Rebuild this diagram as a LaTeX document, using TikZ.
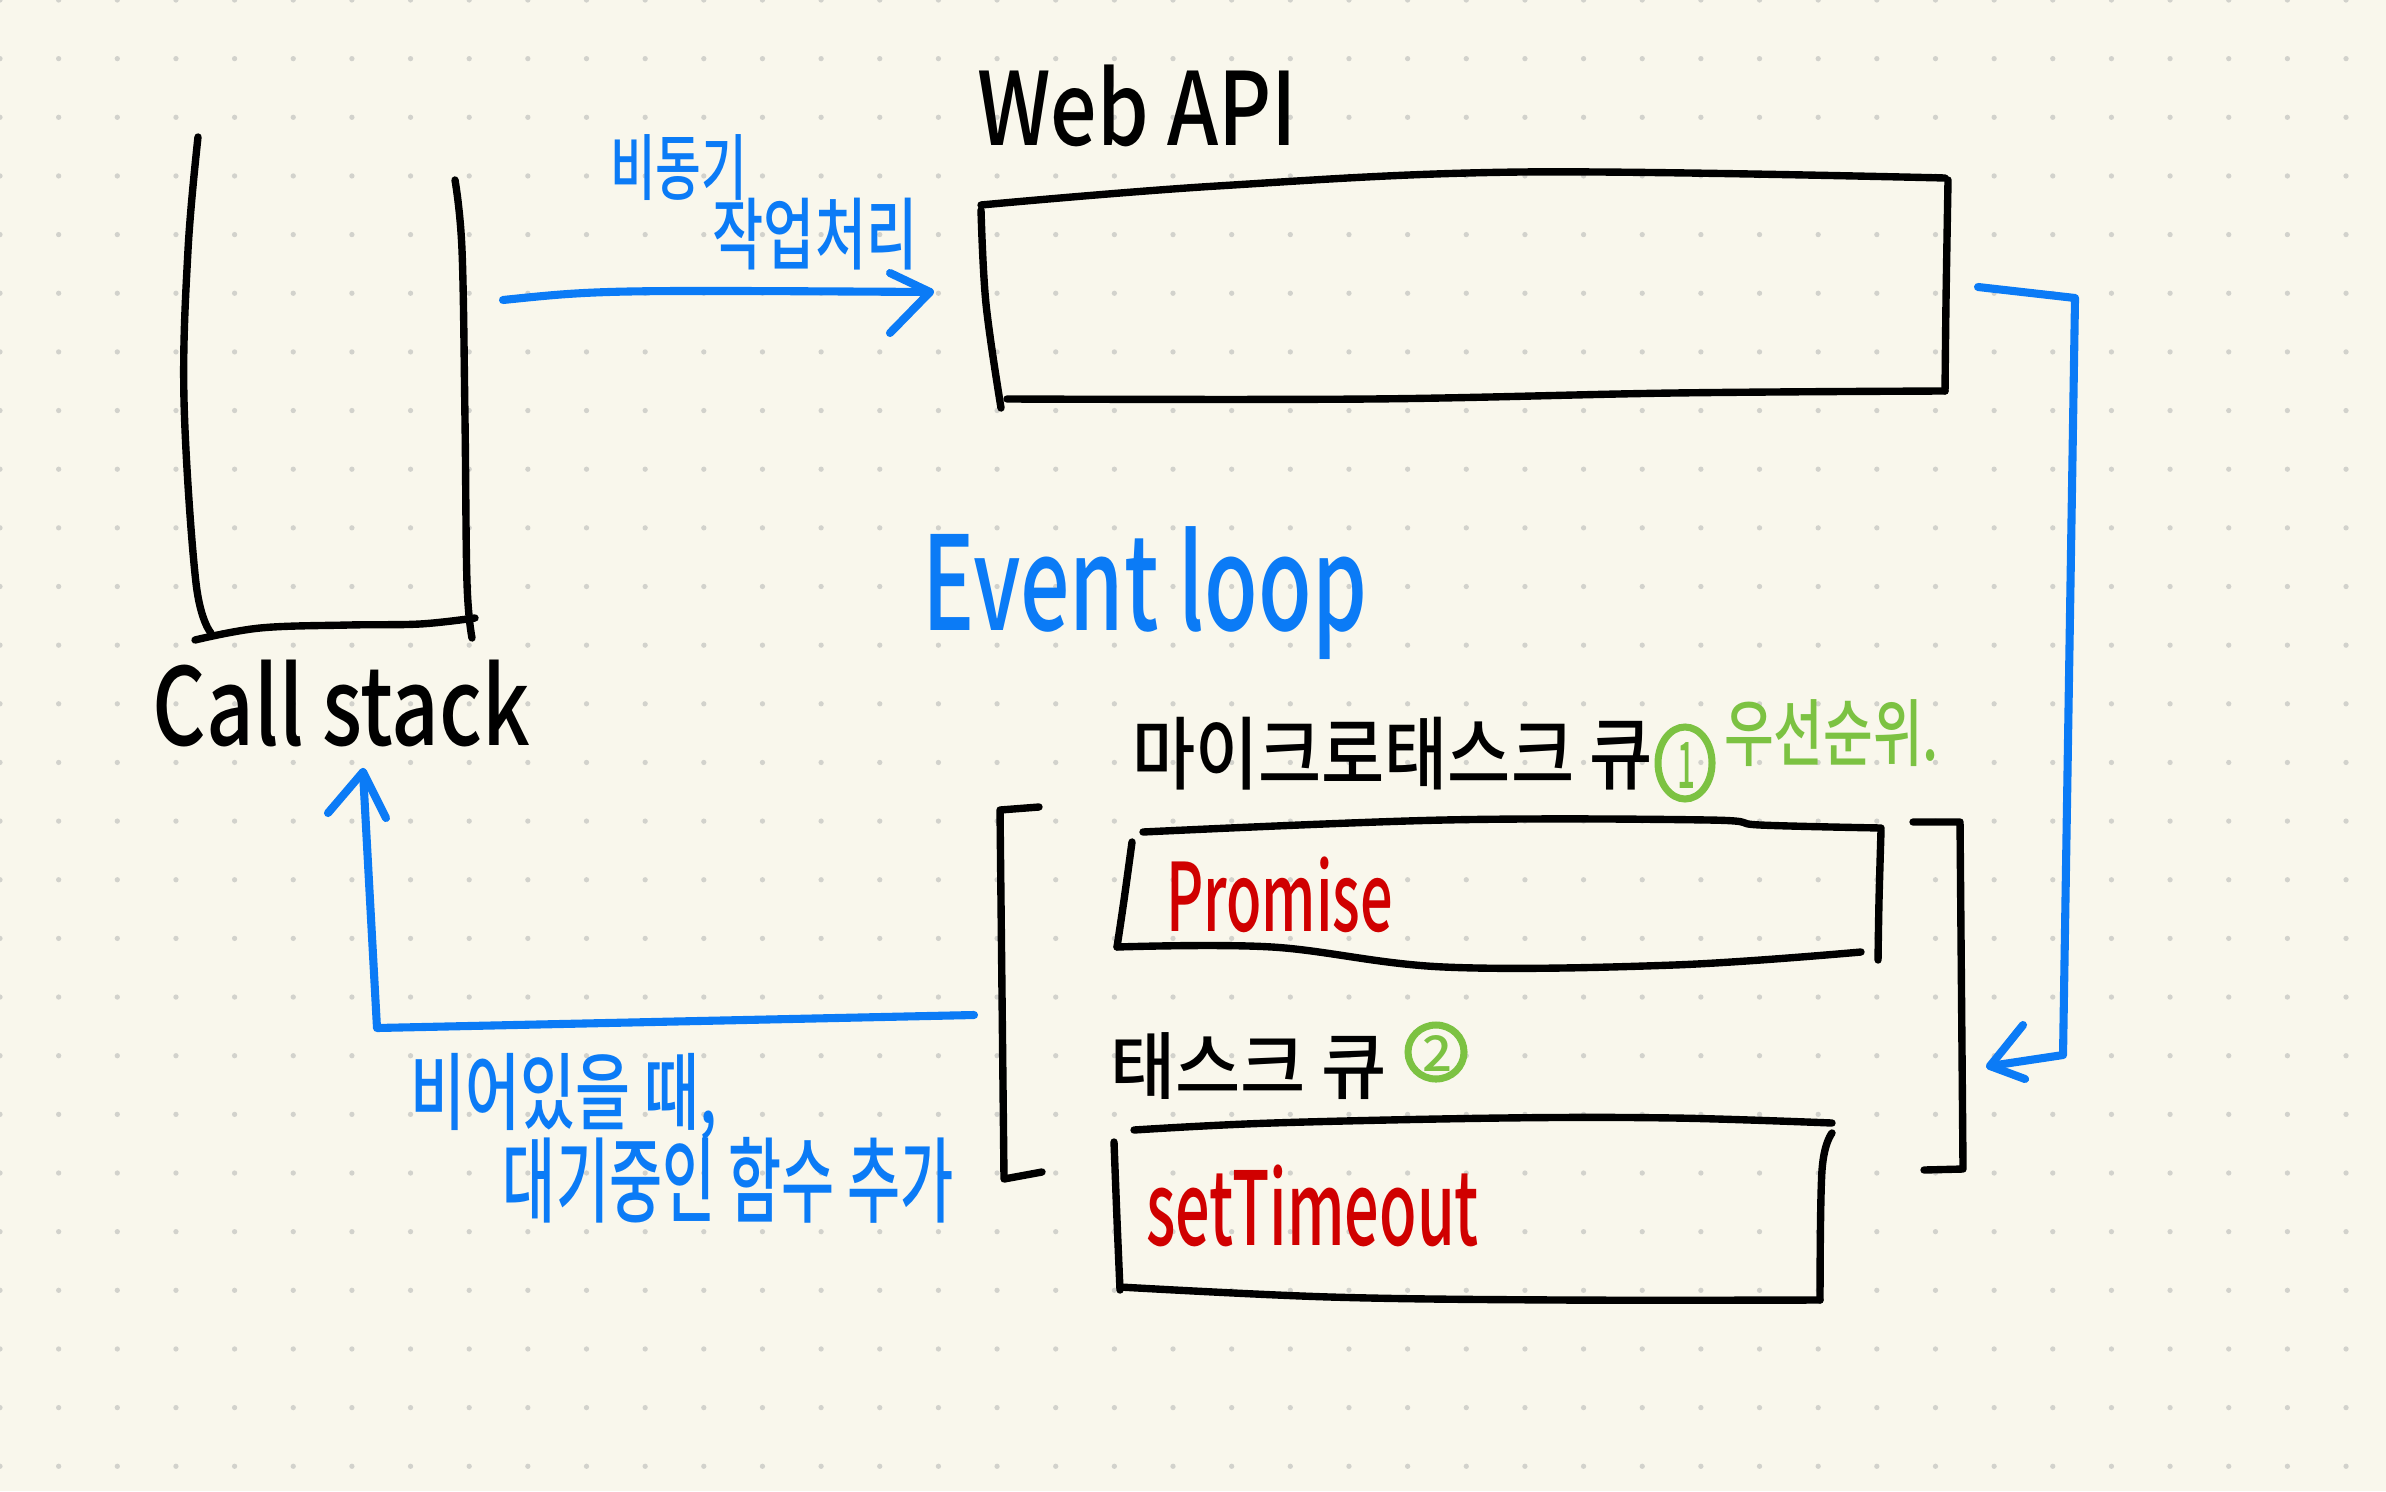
\documentclass[tikz,border=0pt]{standalone}
\usepackage{fontspec}
\usepackage{graphicx}
\usetikzlibrary{calc}
\newfontfamily\hand{Noto Sans CJK KR Medium}
\newlength\pxu
\setlength\pxu{0.01cm}
\newcommand\fitt[3]{\resizebox*{#1\pxu}{#2\pxu}{#3}}
\definecolor{bgc}{HTML}{F9F7EC}
\definecolor{dotc}{HTML}{D2D2CC}
\definecolor{bluec}{HTML}{0B7BF6}
\definecolor{redc}{HTML}{D00000}
\definecolor{greenc}{HTML}{7CC242}
\begin{document}
\begin{tikzpicture}[x=0.01cm,y=-0.01cm,
  ink/.style={line width=2.1pt, line cap=round, line join=round, draw=black},
  flow/.style={line width=2.3pt, line cap=round, line join=round, draw=bluec},
  gline/.style={line width=2pt, line cap=round, draw=greenc},
  lbl/.style={inner sep=0pt, anchor=center, font=\hand}]
\useasboundingbox (0,0) rectangle (2386,1491);
\fill[bgc] (0,0) rectangle (2386,1491);
\foreach \i in {0,...,40} {
  \foreach \j in {0,...,25} {
    \fill[dotc] (\i*58.65,\j*58.65) circle (0.75pt);
  }
}

% ---------- Call stack ----------
\draw[ink] plot[smooth, tension=0.6] coordinates {(198,137) (188,250) (184,400) (196,583) (211,633)};
\draw[ink] plot[smooth, tension=0.6] coordinates {(455,180) (462,250) (465,420) (467,583) (472,638)};
\draw[ink] plot[smooth, tension=0.6] coordinates {(195,640) (260,628) (349,625) (420,624) (475,618)};
\node[lbl, text=black] (callstack) at (341.5,703.5) {\fitt{377}{87}{Call stack}};

% ---------- Web API ----------
\node[lbl, text=black] (webapi) at (1137,106) {\fitt{320}{82}{Web API}};
\draw[ink] plot[smooth, tension=0.6] coordinates {(981,205) (1217,186) (1522,172) (1945,178)};
\draw[ink] plot[smooth, tension=0.6] coordinates {(1948,180) (1946,300) (1945,391)};
\draw[ink] plot[smooth, tension=0.6] coordinates {(1007,399) (1370,399) (1674,393) (1945,391)};
\draw[ink] plot[smooth, tension=0.6] coordinates {(981,210) (986,304) (1001,408)};

% ---------- labels (blue) ----------
\node[lbl, text=bluec] (async1) at (678.5,168) {\fitt{137}{66}{비동기}};
\node[lbl, text=bluec] (async2) at (815,234) {\fitt{205}{72}{작업처리}};
\node[lbl, text=bluec] (evloop) at (1144.5,593.5) {\fitt{445}{133}{Event loop}};
\node[lbl, text=bluec] (empty1) at (564,1096.5) {\fitt{306}{87}{비어있을 때,}};
\node[lbl, text=bluec] (empty2) at (728.5,1180) {\fitt{451}{86}{대기중인 함수 추가}};

% ---------- queues ----------
\node[lbl, text=black] (mq) at (1392.5,753.5) {\fitt{521}{73}{마이크로태스크 큐}};
\draw[gline] (1685,763) ellipse [x radius=27, y radius=36];
\node[lbl, text=greenc] (one) at (1686,765) {\fitt{18}{46}{1}};
\node[lbl, text=greenc] (prio) at (1831.5,733.5) {\fitt{215}{67}{우선순위.}};

\node[lbl, text=black] (tq) at (1248.5,1066.5) {\fitt{277}{67}{태스크 큐}};
\draw[gline] (1436,1052) ellipse [x radius=28, y radius=27];
\node[lbl, text=greenc] (two) at (1437,1053) {\fitt{30}{36}{2}};

% brackets
\draw[ink] (1039,807) -- (1000,810) -- (1004,1179) -- (1042,1172);
\draw[ink] (1913,822) -- (1960,822) -- (1963,1169) -- (1924,1170);

% Promise box
\draw[ink] plot[smooth, tension=0.6] coordinates {(1143,832) (1444,820) (1708,820) (1760,825) (1881,828)};
\draw[ink] plot[smooth, tension=0.6] coordinates {(1881,830) (1879,900) (1878,960)};
\draw[ink] plot[smooth, tension=0.6] coordinates {(1132,842) (1124,900) (1117,947)};
\draw[ink] plot[smooth, tension=0.6] coordinates {(1117,947) (1272,947) (1444,967) (1674,965) (1861,952)};
\node[lbl, text=redc] (promise) at (1279.5,895) {\fitt{227}{76}{Promise}};

% setTimeout box
\draw[ink] plot[smooth, tension=0.6] coordinates {(1134,1130) (1272,1123) (1502,1118) (1674,1118) (1832,1123)};
\draw[ink] plot[smooth, tension=0.6] coordinates {(1832,1133) (1822,1170) (1820,1300)};
\draw[ink] plot[smooth, tension=0.6] coordinates {(1114,1142) (1117,1220) (1120,1290)};
\draw[ink] plot[smooth, tension=0.6] coordinates {(1120,1287) (1330,1297) (1560,1300) (1820,1300)};
\node[lbl, text=redc] (settimeout) at (1312.5,1206) {\fitt{333}{82}{setTimeout}};

% ---------- blue arrows ----------
\coordinate (a1s) at (503,300);
\coordinate (a1e) at (930,292);
\draw[flow] (a1s) .. controls (600,290) .. (a1e);
\draw[flow] ($(a1e)+(-40,-19)$) -- (a1e) -- ($(a1e)+(-40,41)$);

\coordinate (a2s) at (1978,287);
\coordinate (a2c1) at (2075,298);
\coordinate (a2c2) at (2063,1055);
\coordinate (a2e) at (1990,1066);
\draw[flow] (a2s) -- (a2c1) -- (a2c2) -- (a2e);
\draw[flow] ($(a2e)+(33,-41)$) -- (a2e) -- ($(a2e)+(35,13)$);

\coordinate (a3s) at (974,1015);
\coordinate (a3c) at (377,1028);
\coordinate (a3e) at (363,772);
\draw[flow] (a3s) -- (a3c) -- (a3e);
\draw[flow] ($(a3e)+(-35,41)$) -- (a3e) -- ($(a3e)+(23,46)$);
\end{tikzpicture}
\end{document}
